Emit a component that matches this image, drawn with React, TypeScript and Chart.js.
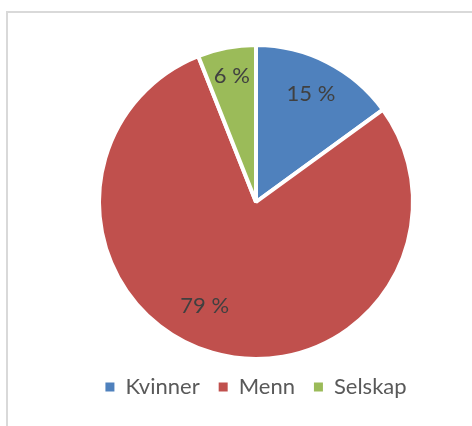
import React, { useEffect, useRef } from "react";
import { Chart, registerables } from "chart.js";

Chart.register(...registerables);

const categories = ["Kvinner", "Menn", "Selskap"];
const shares = [15, 79, 6];
const colors = ["#4F81BD", "#C0504D", "#9BBB59"];
const labelRadius = [0.77, 0.74, 0.82];
const labelAngleShiftDeg = [0, 10, 0];

const pieLabels = {
  id: "pieLabels",
  afterDatasetsDraw(chart: any) {
    const ctx = chart.ctx;
    const meta = chart.getDatasetMeta(0);
    ctx.save();
    ctx.font = "22px Lato";
    ctx.fillStyle = "#404040";
    ctx.textAlign = "center";
    ctx.textBaseline = "middle";
    meta.data.forEach((arc: any, i: number) => {
      const p = arc.getProps(["x", "y", "startAngle", "endAngle", "outerRadius"], true);
      const mid = (p.startAngle + p.endAngle) / 2 + (labelAngleShiftDeg[i] * Math.PI) / 180;
      const r = p.outerRadius * labelRadius[i];
      ctx.fillText(shares[i] + " %", p.x + Math.cos(mid) * r, p.y + Math.sin(mid) * r);
    });
    ctx.restore();
  },
};

export default function App() {
  const ref = useRef<HTMLCanvasElement>(null);
  useEffect(() => {
    if (!ref.current) return;
    const chart = new Chart(ref.current, {
      type: "pie",
      data: {
        labels: categories,
        datasets: [
          {
            data: shares,
            backgroundColor: colors,
            borderColor: "#ffffff",
            borderWidth: 4,
            radius: 157,
          },
        ],
      },
      options: {
        animation: false,
        responsive: false,
        layout: { padding: { left: 40, right: 0, top: 47, bottom: 18 } },
        plugins: {
          tooltip: { enabled: false },
          legend: {
            position: "bottom",
            labels: {
              boxWidth: 9,
              boxHeight: 9,
              padding: 19,
              color: "#595959",
              font: { family: "Lato", size: 22 },
              generateLabels(chart: any) {
                const items = Chart.overrides.pie.plugins.legend.labels.generateLabels(chart);
                return items.map((it: any) => ({ ...it, lineWidth: 0, strokeStyle: it.fillStyle }));
              },
            },
          },
        },
      },
      plugins: [pieLabels],
    });
    return () => chart.destroy();
  }, []);
  return (
    <div style={{ position: "absolute", left: 0, top: 0, width: 472, height: 426, overflow: "hidden", background: "#fff" }}>
      <div
        style={{
          position: "absolute",
          left: 6,
          top: 11,
          width: 500,
          height: 450,
          borderTop: "2px solid #d9d9d9",
          borderLeft: "2px solid #d9d9d9",
        }}
      />
      <canvas ref={ref} width={472} height={426} style={{ position: "absolute", left: 0, top: 0 }} />
    </div>
  );
}
